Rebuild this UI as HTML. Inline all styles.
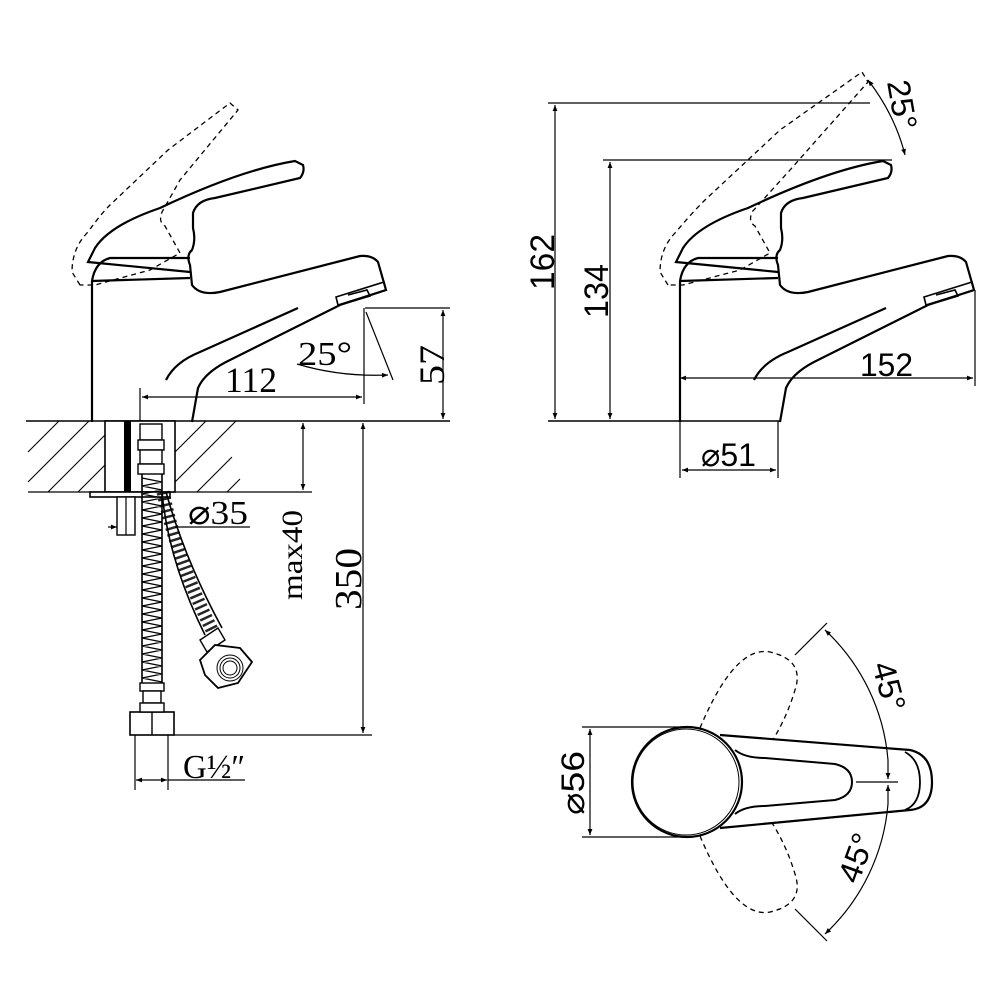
<!DOCTYPE html>
<html><head><meta charset="utf-8"><style>
html,body{margin:0;padding:0;background:#fff}
svg{display:block}
text{font-family:"Liberation Serif",serif;fill:#000}
.s{font-family:"Liberation Sans",sans-serif}
</style></head><body>
<svg width="1001" height="1001" viewBox="0 0 1001 1001" xmlns="http://www.w3.org/2000/svg">
<defs>
<marker id="a" viewBox="0 0 10 10" refX="10" refY="5" markerWidth="12" markerHeight="6" orient="auto-start-reverse" markerUnits="userSpaceOnUse"><path d="M0,1 L10,5 L0,9 z" fill="#000"/></marker>
<g id="tapbody">
 <path d="M92,422 L92,281 Q95,262 110,258 L190,258 M92,281 L190,278" fill="none" stroke="#000" stroke-width="2.2"/>
 <path d="M192,422 L198,388 Q205,372 230,360 L340,305 L386,290 L378,262 Q372,255 360,256 L220,292 Q200,296 192,285 L190,265 Q186,255 192,250 Q196,240 193,228 L193,213 Q197,200 215,198 L300,178 Q305,172 303,165 L295,161 Q240,170 160,208 Q110,225 95,248 L88,262 L190,272" fill="none" stroke="#000" stroke-width="2.2"/>
 <path d="M166,380 Q175,362 200,352 L298,308" fill="none" stroke="#000" stroke-width="2.2"/>
 <path d="M338,305 L386,290 L384,282 L336,297 Z M350,302 L370,296 L367,290 L348,295" fill="none" stroke="#000" stroke-width="1.6"/>
</g>
</defs>

<!-- LEFT SIDE VIEW -->
<use href="#tapbody"/>
<path d="M80,285 L72,272 Q72,248 88,232 Q100,215 110,205 L168,150 L230,103 L238,110 L180,180 L162,212 Q158,222 165,226 L180,253 L150,270 L95,285 Z" fill="none" stroke="#000" stroke-width="1.3" stroke-dasharray="5,4"/>
<line x1="26" y1="421" x2="450" y2="421" stroke="#000" stroke-width="1.6"/>
<line x1="28" y1="492" x2="312" y2="492" stroke="#000" stroke-width="1.3"/>
<g stroke="#000" stroke-width="1.1">
<line x1="28" y1="452" x2="59" y2="421"/><line x1="28" y1="482" x2="89" y2="421"/>
<line x1="48" y1="492" x2="105" y2="435"/><line x1="78" y1="492" x2="105" y2="465"/>
<line x1="175" y1="452" x2="206" y2="421"/><line x1="175" y1="482" x2="236" y2="421"/>
<line x1="197" y1="492" x2="232" y2="457"/>
<line x1="227" y1="492" x2="240" y2="479"/>
</g>
<rect x="105" y="421" width="70" height="71" fill="#fff" stroke="#000" stroke-width="1.6"/>
<rect x="124" y="421" width="7" height="71" fill="#000"/>
<rect x="90" y="492" width="80" height="5" fill="#fff" stroke="#000" stroke-width="1.6"/>
<rect x="117" y="497" width="18" height="38" fill="#fff" stroke="#000" stroke-width="1.4"/>
<line x1="126" y1="497" x2="126" y2="535" stroke="#000" stroke-width="1.2"/>
<rect x="140" y="424" width="22" height="16" fill="#fff" stroke="#000" stroke-width="1.4"/>
<rect x="138" y="440" width="26" height="10" fill="#fff" stroke="#000" stroke-width="1.4"/>
<rect x="140" y="450" width="22" height="14" fill="#fff" stroke="#000" stroke-width="1.4"/>
<rect x="138" y="464" width="26" height="10" fill="#fff" stroke="#000" stroke-width="1.4"/>
<path d="M142,474 L142,683 M162,474 L162,683" stroke="#000" stroke-width="1.6"/>
<path d="M142,478 l20,4 l-20,4 l20,4 l-20,4 l20,4 l-20,4 l20,4 l-20,4 l20,4 l-20,4 l20,4 l-20,4 l20,4 l-20,4 l20,4 l-20,4 l20,4 l-20,4 l20,4 l-20,4 l20,4 l-20,4 l20,4 l-20,4 l20,4 l-20,4 l20,4 l-20,4 l20,4 l-20,4 l20,4 l-20,4 l20,4 l-20,4 l20,4 l-20,4 l20,4 l-20,4 l20,4 l-20,4 l20,4 l-20,4 l20,4 l-20,4 l20,4 l-20,4 l20,4 l-20,4 l20,4 l-20,4 l20,4" fill="none" stroke="#000" stroke-width="1.2"/>
<rect x="140" y="683" width="24" height="8" fill="#fff" stroke="#000" stroke-width="1.4"/>
<rect x="143" y="691" width="18" height="12" fill="#fff" stroke="#000" stroke-width="1.4"/>
<rect x="130" y="712" width="44" height="23" fill="#fff" stroke="#000" stroke-width="1.6"/>
<rect x="140" y="703" width="24" height="9" fill="#fff" stroke="#000" stroke-width="1.4"/>
<line x1="152" y1="712" x2="152" y2="735" stroke="#000" stroke-width="1.4"/>
<path d="M162,492 Q168,560 205,635" fill="none" stroke="#000" stroke-width="1.6"/>
<path d="M166,492 Q185,560 222,628" fill="none" stroke="#000" stroke-width="1.6"/>
<path d="M163,492 Q177,560 213,632" fill="none" stroke="#000" stroke-width="13" stroke-dasharray="2.5,3.5" opacity="0.85"/>
<path d="M200,640 L218,628 L225,640 L207,652 Z" fill="#fff" stroke="#000" stroke-width="1.4"/>
<path d="M200,660 L215,645 L240,648 L252,662 L238,683 L218,688 L205,675 Z" fill="#fff" stroke="#000" stroke-width="1.8"/>
<circle cx="230" cy="668" r="13" fill="none" stroke="#000" stroke-width="1"/>
<circle cx="230" cy="668" r="10" fill="none" stroke="#000" stroke-width="1"/>
<circle cx="230" cy="668" r="7" fill="none" stroke="#000" stroke-width="1"/>

<g stroke="#000" stroke-width="1.2" fill="none">
<line x1="365" y1="308" x2="450" y2="308"/>
<line x1="443" y1="310" x2="443" y2="419" marker-start="url(#a)" marker-end="url(#a)"/>
<line x1="364" y1="308" x2="364" y2="404"/>
<line x1="140" y1="388" x2="140" y2="421"/>
<line x1="142" y1="397" x2="362" y2="397" marker-start="url(#a)" marker-end="url(#a)"/>
<line x1="366" y1="312" x2="393" y2="380"/>
<path d="M297,364 Q340,377 388,375" marker-end="url(#a)"/>
<line x1="303" y1="423" x2="303" y2="490" marker-start="url(#a)" marker-end="url(#a)"/>
<line x1="363" y1="423" x2="363" y2="733" marker-start="url(#a)" marker-end="url(#a)"/>
<line x1="174" y1="735" x2="372" y2="735"/>
<line x1="175" y1="527" x2="250" y2="527"/>
<line x1="108" y1="527" x2="117" y2="527" marker-end="url(#a)"/>
<line x1="135" y1="735" x2="135" y2="790"/>
<line x1="168" y1="735" x2="168" y2="790"/>
<line x1="136" y1="780" x2="167" y2="780" marker-start="url(#a)" marker-end="url(#a)"/>
<line x1="168" y1="780" x2="245" y2="780"/>
</g>
<text x="225" y="392" font-size="36" textLength="52" lengthAdjust="spacingAndGlyphs">112</text>
<text x="298" y="365" font-size="34" textLength="54" lengthAdjust="spacingAndGlyphs">25°</text>
<text x="0" y="0" font-size="36" textLength="40" lengthAdjust="spacingAndGlyphs" transform="translate(444,385) rotate(-90)">57</text>
<text x="188" y="524" font-size="34" textLength="60" lengthAdjust="spacingAndGlyphs">⌀35</text>
<text x="0" y="0" font-size="30" textLength="90" lengthAdjust="spacingAndGlyphs" transform="translate(302,600) rotate(-90)">max40</text>
<text x="0" y="0" font-size="38" textLength="62" lengthAdjust="spacingAndGlyphs" transform="translate(361,610) rotate(-90)">350</text>
<text x="183" y="778" font-size="34" textLength="62" lengthAdjust="spacingAndGlyphs">G½″</text>

<!-- RIGHT SIDE VIEW -->
<use href="#tapbody" x="588" y="0"/>
<path d="M668,285 L660,272 Q660,248 676,232 Q690,215 705,200 L780,130 L862,72 L868,82 L790,170 L752,212 Q748,222 755,226 L770,253 L740,270 L683,285 Z" fill="none" stroke="#000" stroke-width="1.3" stroke-dasharray="5,4"/>
<line x1="548" y1="421" x2="780" y2="421" stroke="#000" stroke-width="1.6"/>
<g stroke="#000" stroke-width="1.2" fill="none">
<line x1="548" y1="103" x2="870" y2="103"/>
<line x1="603" y1="160" x2="892" y2="160"/>
<line x1="555" y1="105" x2="555" y2="419" marker-start="url(#a)" marker-end="url(#a)"/>
<line x1="610" y1="162" x2="610" y2="419" marker-start="url(#a)" marker-end="url(#a)"/>
<line x1="975" y1="290" x2="975" y2="386"/>
<line x1="680" y1="378" x2="973" y2="378" marker-start="url(#a)" marker-end="url(#a)"/>
<line x1="680" y1="421" x2="680" y2="478"/>
<line x1="778" y1="421" x2="778" y2="478"/>
<line x1="682" y1="470" x2="776" y2="470" marker-start="url(#a)" marker-end="url(#a)"/>
<path d="M868,80 Q895,115 905,155" marker-start="url(#a)" marker-end="url(#a)"/>
</g>
<text class="s" x="0" y="0" font-size="34" textLength="56" lengthAdjust="spacingAndGlyphs" transform="translate(554,290) rotate(-90)">162</text>
<text class="s" x="0" y="0" font-size="34" textLength="54" lengthAdjust="spacingAndGlyphs" transform="translate(608,318) rotate(-90)">134</text>
<text class="s" x="860" y="376" font-size="32" textLength="53" lengthAdjust="spacingAndGlyphs">152</text>
<text class="s" x="701" y="466" font-size="32" textLength="55" lengthAdjust="spacingAndGlyphs">⌀51</text>
<text class="s" x="0" y="0" font-size="32" textLength="50" lengthAdjust="spacingAndGlyphs" transform="translate(887,82) rotate(80)">25°</text>

<!-- TOP VIEW -->
<g stroke="#000" fill="none">
<path d="M700,728 Q735,645 770,652 Q805,660 795,690 Q780,740 745,775" stroke-width="1.3" stroke-dasharray="5,4"/>
<path d="M700,836 Q735,919 770,912 Q805,904 795,874 Q780,824 745,789" stroke-width="1.3" stroke-dasharray="5,4"/>
<path d="M720,735 L910,750 Q932,755 932,782 Q932,808 910,810 L720,828" stroke-width="2.2" fill="#fff"/>
<path d="M905,752 Q920,760 920,782 Q920,804 905,810" stroke-width="1.8"/>
<path d="M735,750 Q745,758 765,758 L835,764 Q852,768 852,782 Q852,796 835,800 L765,806 Q745,806 735,814" stroke-width="2"/>
<circle cx="687" cy="782" r="55" stroke-width="2.2" fill="#fff"/>
<circle cx="686" cy="782" r="53" stroke-width="1"/>
<g stroke-width="1.2">
<line x1="582" y1="727" x2="690" y2="727"/>
<line x1="582" y1="837" x2="690" y2="837"/>
<line x1="590" y1="729" x2="590" y2="835" marker-start="url(#a)" marker-end="url(#a)"/>
<line x1="856" y1="782" x2="898" y2="782"/>
<line x1="888" y1="760" x2="888" y2="779" marker-end="url(#a)"/>
<line x1="888" y1="804" x2="888" y2="785" marker-end="url(#a)"/>
<line x1="795" y1="655" x2="827" y2="623"/>
<line x1="795" y1="909" x2="827" y2="941"/>
<path d="M825,630 A201,201 0 0 1 888,760" marker-start="url(#a)"/>
<path d="M825,934 A201,201 0 0 0 888,804" marker-start="url(#a)"/>
</g>
</g>
<text class="s" x="0" y="0" font-size="32" textLength="64" lengthAdjust="spacingAndGlyphs" transform="translate(584,815) rotate(-90)">⌀56</text>
<text class="s" x="0" y="0" font-size="32" textLength="50" lengthAdjust="spacingAndGlyphs" transform="translate(872,665) rotate(75)">45°</text>
<text class="s" x="0" y="0" font-size="32" textLength="50" lengthAdjust="spacingAndGlyphs" transform="translate(858,885) rotate(-70)">45°</text>
</svg>
</body></html>
